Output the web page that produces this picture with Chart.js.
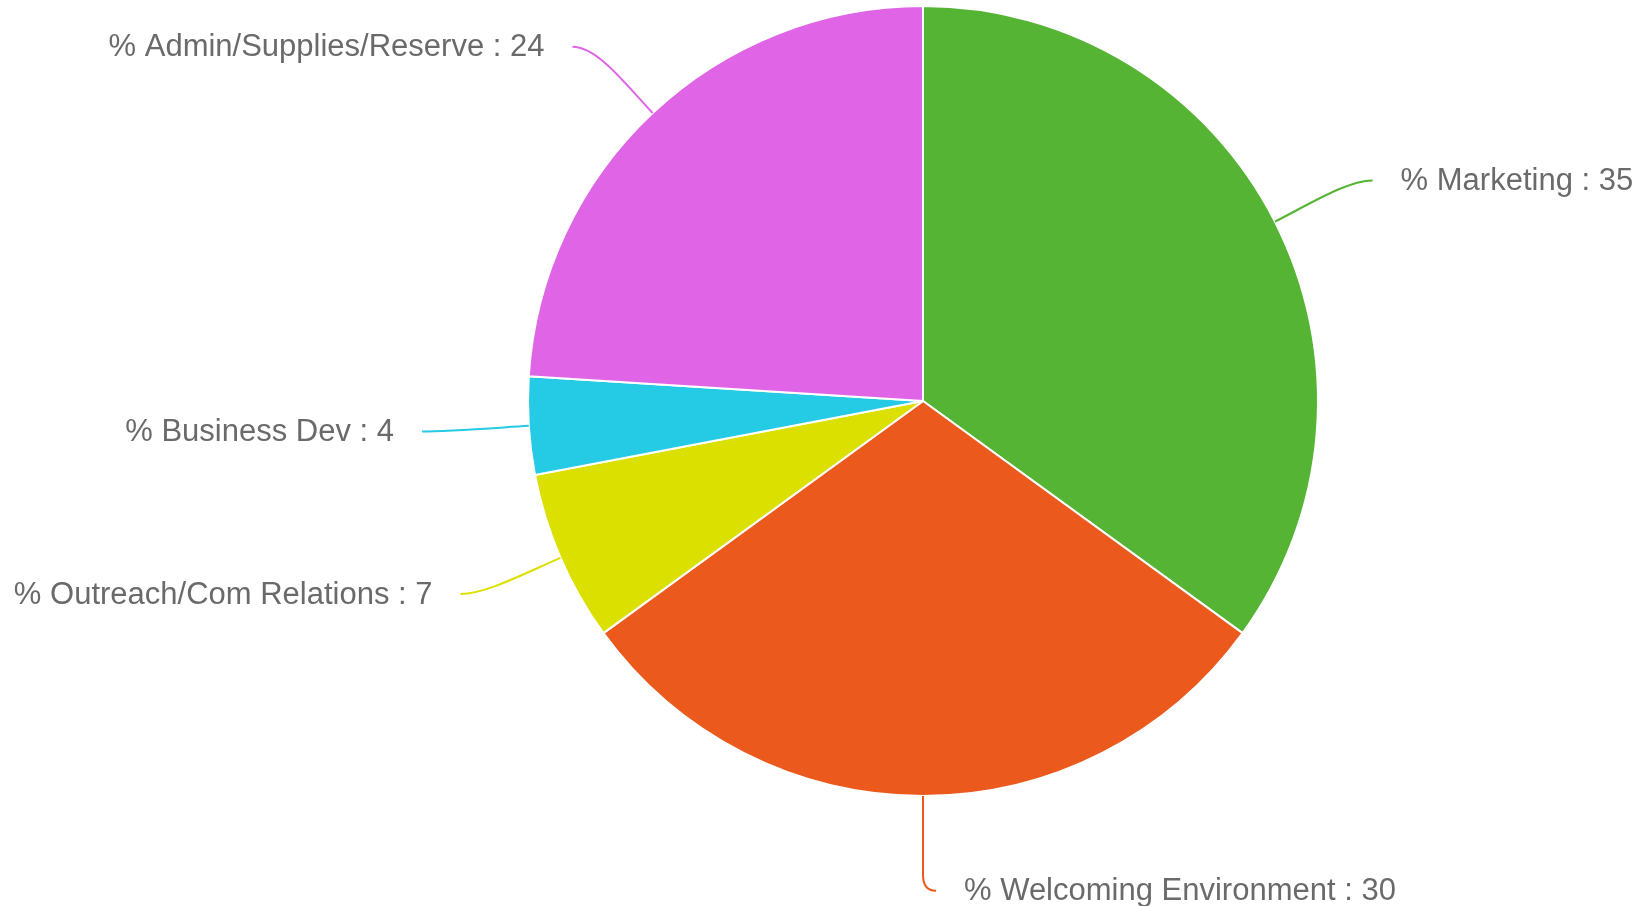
<!DOCTYPE html>
<html>
<head>
<meta charset="utf-8">
<script src="https://cdn.jsdelivr.net/npm/chart.js@4"></script>
<style>
  html, body { margin: 0; padding: 0; background: #fff; }
  #wrap { width: 1649px; height: 906px; }
</style>
</head>
<body>
<div id="wrap"><canvas id="chart" width="1649" height="906"></canvas></div>
<script>
// data
const labels = ['% Marketing', '% Welcoming Environment', '% Outreach/Com Relations', '% Business Dev', '% Admin/Supplies/Reserve'];
const values = [35, 30, 7, 4, 24];
const colors = ['#55b433', '#eb5a1c', '#dce000', '#25cae4', '#e064e6'];

// leader lines + outside labels
const outsideLabels = {
    id: 'outsideLabels',
    afterDatasetsDraw(chart) {
        const ctx = chart.ctx;
        const meta = chart.getDatasetMeta(0);
        ctx.save();
        ctx.font = '31px "Liberation Sans", Arial, sans-serif';
        ctx.textBaseline = 'middle';
        meta.data.forEach((arc, i) => {
            const a = (arc.startAngle + arc.endAngle) / 2;
            const dx = Math.cos(a), dy = Math.sin(a);
            const r = arc.outerRadius;
            const vertical = Math.abs(dx) < 0.05;
            const side = dx < -0.05 ? -1 : 1;
            const x0 = arc.x + dx * r, y0 = arc.y + dy * r;
            const ex = arc.x + dx * r * 1.215 + side * (vertical ? 13 : 22);
            const ey = arc.y + dy * r * (vertical ? 1.24 : 1.23);
            const mx = arc.x + dx * r * 1.1, my = arc.y + dy * r * 1.1;
            ctx.strokeStyle = colors[i];
            ctx.lineWidth = 2;
            ctx.beginPath();
            ctx.moveTo(x0, y0);
            if (vertical) {
                ctx.lineTo(x0, ey - 16);
                ctx.quadraticCurveTo(x0, ey, ex, ey);
            } else {
                ctx.bezierCurveTo(mx, my, ex - side * 25, ey, ex, ey);
            }
            ctx.stroke();
            ctx.fillStyle = '#6a6a6a';
            ctx.textAlign = side < 0 ? 'right' : 'left';
            ctx.fillText(labels[i] + ' : ' + values[i], ex + side * 28, ey + 1);
        });
        ctx.restore();
    }
};

const ctx = document.getElementById('chart').getContext('2d');
const chart = new Chart(ctx, {
    type: 'pie',
    data: {
        labels: labels,
        datasets: [{
            data: values,
            backgroundColor: colors,
            borderColor: '#ffffff',
            borderWidth: 2
        }]
    },
    options: {
        responsive: false,
        animation: false,
        layout: {
            padding: { left: 527, right: 330, top: 5, bottom: 109 }
        },
        plugins: {
            legend: { display: false },
            tooltip: { enabled: false }
        }
    },
    plugins: [outsideLabels]
});
</script>
</body>
</html>
